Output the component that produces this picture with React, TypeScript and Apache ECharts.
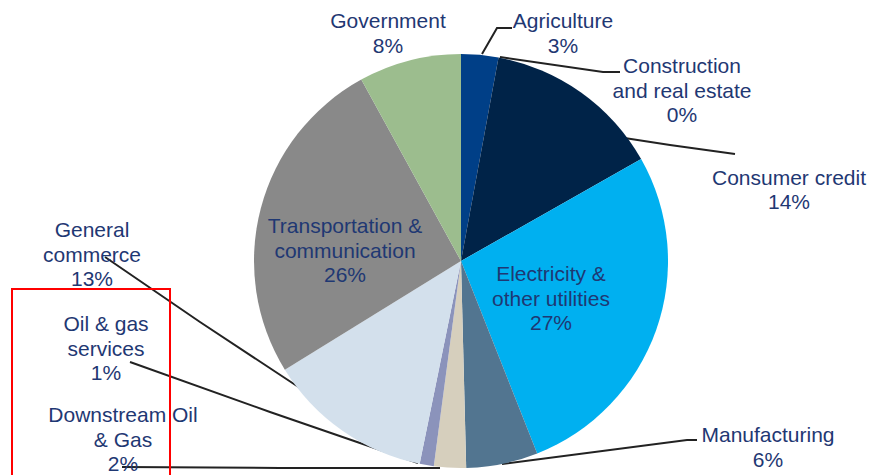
import React, { useEffect, useRef } from "react";
import * as echarts from "echarts";

const labels = [
  "Agriculture",
  "Construction\nand real estate",
  "Consumer credit",
  "Electricity &\nother utilities",
  "Manufacturing",
  "Downstream Oil\n& Gas",
  "Oil & gas\nservices",
  "General\ncommerce",
  "Transportation &\ncommunication",
  "Government",
];
const values = [2.9, 0, 13.9, 27.2, 5.6, 2.5, 1.1, 13, 25.8, 8];
const colors = [
  "#003f87",
  "#0a2a55",
  "#002348",
  "#00b0f0",
  "#527590",
  "#d6cfbd",
  "#8b93bb",
  "#d3e0ec",
  "#898989",
  "#9cbd8e",
];

// label placement (layout only)
const layouts: { x: number; y: number; line?: number[][] }[] = [
  { x: 563, y: 8.5, line: [[482, 54], [497, 28], [512, 28]] },
  { x: 682, y: 53.5, line: [[500, 57], [603, 72], [620, 72]] },
  { x: 789, y: 165, line: [[605, 135], [670, 145], [735, 154]] },
  { x: 551, y: 261.5 },
  { x: 768, y: 422.5, line: [[502, 464], [687, 440], [697, 440]] },
  { x: 123, y: 402.5, line: [[440, 468], [280, 468], [122, 467]] },
  { x: 106, y: 311.5, line: [[418, 463], [270, 412], [130, 362]] },
  { x: 92, y: 217.5, line: [[303, 390], [200, 322], [105, 257]] },
  { x: 345, y: 213.5 },
  { x: 388, y: 8.5 },
];

export default function App() {
  const ref = useRef<HTMLDivElement>(null);
  useEffect(() => {
    if (!ref.current) return;
    const chart = echarts.init(ref.current, null, { renderer: "svg" });
    const noLine = new Set([3, 8, 9]);
    chart.setOption({
      animation: false,
      backgroundColor: "#ffffff",
      graphic: [
        {
          type: "rect",
          shape: { x: 12, y: 289, width: 158, height: 220 },
          style: { fill: "none", stroke: "#ff0000", lineWidth: 2 },
          z: 10,
        },
      ],
      series: [
        {
          type: "pie",
          center: [461, 261],
          radius: 207,
          startAngle: 90,
          clockwise: true,
          percentPrecision: 0,
          avoidLabelOverlap: false,
          minShowLabelAngle: -1,
          itemStyle: { borderWidth: 0 },
          label: {
            show: true,
            formatter: "{b}\n{d}%",
            color: "#1f3873",
            fontSize: 21,
            lineHeight: 24.5,
            fontFamily: "'Liberation Sans', Arial, sans-serif",
            align: "center",
          },
          labelLine: {
            show: true,
            lineStyle: { color: "#222222", width: 2 },
          },
          labelLayout: (params: any) => {
            const L = layouts[params.dataIndex];
            const o: any = { x: L.x, y: L.y, align: "center", verticalAlign: "top" };
            if (L.line) o.labelLinePoints = L.line;
            return o;
          },
          data: labels.map((name, i) => ({
            name,
            value: values[i],
            itemStyle: { color: colors[i] },
            labelLine: { show: !noLine.has(i) },
          })),
        },
      ],
    });
    return () => chart.dispose();
  }, []);
  return (
    <div
      ref={ref}
      style={{ position: "fixed", left: 0, top: 0, width: 873, height: 475 }}
    />
  );
}
